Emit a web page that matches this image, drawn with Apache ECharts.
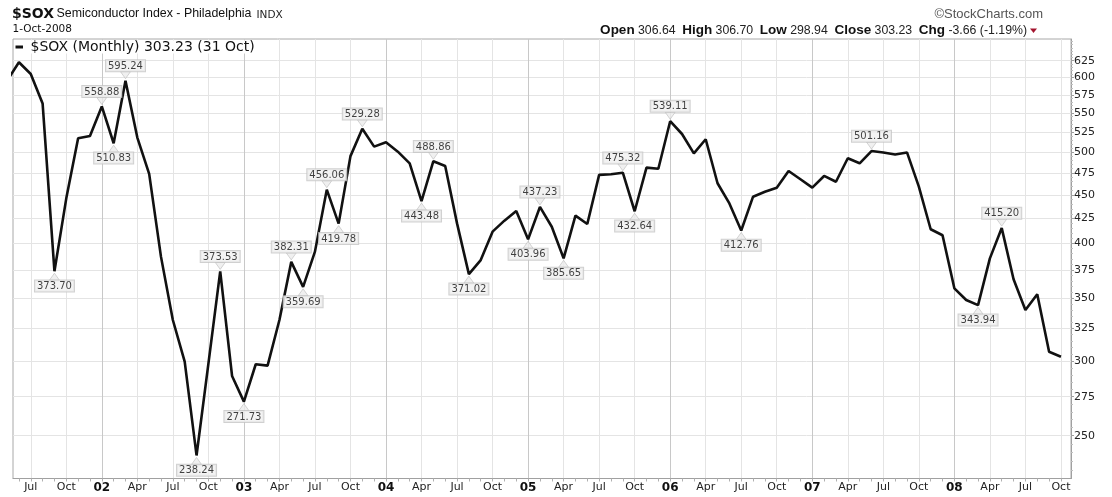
<!DOCTYPE html>
<html><head><meta charset="utf-8">
<script src="https://cdn.jsdelivr.net/npm/echarts@6/dist/echarts.min.js"></script>
<style>html,body{margin:0;padding:0;background:#fff}#c{width:1112px;height:497px}</style>
</head><body><div id="c"></div>
<script>
// ---- data ----
const months = [
 "2001-05","2001-06","2001-07","2001-08","2001-09","2001-10","2001-11","2001-12",
 "2002-01","2002-02","2002-03","2002-04","2002-05","2002-06","2002-07","2002-08","2002-09","2002-10","2002-11","2002-12",
 "2003-01","2003-02","2003-03","2003-04","2003-05","2003-06","2003-07","2003-08","2003-09","2003-10","2003-11","2003-12",
 "2004-01","2004-02","2004-03","2004-04","2004-05","2004-06","2004-07","2004-08","2004-09","2004-10","2004-11","2004-12",
 "2005-01","2005-02","2005-03","2005-04","2005-05","2005-06","2005-07","2005-08","2005-09","2005-10","2005-11","2005-12",
 "2006-01","2006-02","2006-03","2006-04","2006-05","2006-06","2006-07","2006-08","2006-09","2006-10","2006-11","2006-12",
 "2007-01","2007-02","2007-03","2007-04","2007-05","2007-06","2007-07","2007-08","2007-09","2007-10","2007-11","2007-12",
 "2008-01","2008-02","2008-03","2008-04","2008-05","2008-06","2008-07","2008-08","2008-09","2008-10"
];
const closes = [
 595, 622.6, 605, 563, 373.70, 446.5, 517, 520,
 558.88, 510.83, 595.24, 518, 474, 387, 331.7, 299.6, 238.24, 298, 373.53, 289.3,
 271.73, 297.7, 296.7, 331.7, 382.31, 359.69, 392, 456.06, 419.78, 495, 529.28, 506.6,
 512, 500.4, 486.4, 443.48, 488.86, 483.3, 420, 371.02, 384, 411.6, 422.8, 433,
 403.96, 437.23, 416.6, 385.65, 428, 419.4, 472.8, 473.5, 475.32, 432.64, 481.3, 480,
 539.11, 522.5, 498.4, 515.8, 463.3, 441, 412.76, 448.3, 453.8, 458.3, 477.4, 467.8,
 458.3, 471.6, 465, 492.4, 486.4, 501.16, 499.5, 497, 499.5, 459.4, 414, 408,
 358.4, 348.3, 343.94, 385.6, 415.20, 366.4, 339.9, 353.2, 306.89, 303.23
];
const peakMonths = ["2002-01","2002-03","2002-11","2003-05","2003-08","2003-11","2004-05","2005-02","2005-09","2006-01","2007-06","2008-05"];
const troughMonths = ["2001-09","2002-02","2002-09","2003-01","2003-06","2003-09","2004-04","2004-08","2005-01","2005-04","2005-10","2006-07","2008-03"];
const yTicks = [250,275,300,325,350,375,400,425,450,475,500,525,550,575,600,625];
const yMinorTicks = [230,235,240,245,255,260,265,270,280,285,290,295,305,310,315,320,330,335,340,345,355,360,365,370,380,385,390,395,405,410,415,420,430,435,440,445,455,460,465,470,480,485,490,495,505,510,515,520,530,535,540,545,555,560,565,570,580,585,590,595,605,610,615,620,630,635,640,645,650,655];
const quarterMonths = [
 "2001-07","2001-10",
 "2002-01","2002-04","2002-07","2002-10",
 "2003-01","2003-04","2003-07","2003-10",
 "2004-01","2004-04","2004-07","2004-10",
 "2005-01","2005-04","2005-07","2005-10",
 "2006-01","2006-04","2006-07","2006-10",
 "2007-01","2007-04","2007-07","2007-10",
 "2008-01","2008-04","2008-07","2008-10"
];
const quarterLabels = [
 "Jul","Oct",
 "02","Apr","Jul","Oct",
 "03","Apr","Jul","Oct",
 "04","Apr","Jul","Oct",
 "05","Apr","Jul","Oct",
 "06","Apr","Jul","Oct",
 "07","Apr","Jul","Oct",
 "08","Apr","Jul","Oct"
];
const yearLabels = ["02","03","04","05","06","07","08"];

// ---- build ----
const lineData = months.map((m, i) => [i, closes[i]]);
const quarterIdx = quarterMonths.map(m => months.indexOf(m));
const monthIdx = months.map((m, i) => i).filter(i => i > 0);
const labelByIdx = {};
quarterIdx.forEach((q, k) => { labelByIdx[q] = quarterLabels[k]; });
const gridColors = quarterLabels.map(l => yearLabels.indexOf(l) >= 0 ? '#c8c8c8' : '#e4e4e4');

const boxLabel = {
  show: true,
  formatter: p => p.value[1].toFixed(2),
  fontFamily: 'DejaVu Sans', fontSize: 10, color: '#111',
  backgroundColor: '#f0f0f0', borderColor: '#c4c4c4', borderWidth: 1,
  padding: [1, 2, 0, 2], distance: 0
};
const annData = [];
peakMonths.forEach(m => {
  const i = months.indexOf(m);
  annData.push({ value: [i, closes[i]], symbol: 'path://M0,0L10,0L5,6Z', symbolSize: [10, 7], symbolOffset: [0, -5.5],
    label: Object.assign({}, boxLabel, { position: 'top' }) });
});
troughMonths.forEach(m => {
  const i = months.indexOf(m);
  annData.push({ value: [i, closes[i]], symbol: 'triangle', symbolSize: [10, 7], symbolOffset: [0, 5.5],
    label: Object.assign({}, boxLabel, { position: 'bottom' }) });
});

const chart = echarts.init(document.getElementById('c'), null, { renderer: 'canvas' });
const yMin = 225.2, yMax = 659;
const xMin = 0.5, xMax = 89.85;
chart.setOption({
  animation: false,
  grid: { left: 13, right: 41, top: 39, bottom: 18.5, show: true, borderColor: '#a8a8a8', borderWidth: 1, containLabel: false },
  xAxis: [{
    type: 'value', min: xMin, max: xMax, position: 'bottom',
    axisLine: { show: true, onZero: false, lineStyle: { color: '#a0a0a0' } },
    axisTick: { show: false, customValues: quarterIdx },
    axisLabel: {
      customValues: quarterIdx, margin: 3, color: '#222', fontFamily: 'DejaVu Sans', fontSize: 11,
      formatter: v => { const l = labelByIdx[Math.round(v)] || ''; return yearLabels.indexOf(l) >= 0 ? '{y|' + l + '}' : l; },
      rich: { y: { fontFamily: 'DejaVu Sans', fontWeight: 'bold', fontSize: 12, color: '#111' } }
    },
    splitLine: { show: true, lineStyle: { color: gridColors, width: 1 } }
  }, {
    type: 'value', min: xMin, max: xMax, position: 'bottom',
    axisLine: { show: false },
    axisTick: { show: true, customValues: monthIdx, length: 3, lineStyle: { color: '#b0b0b0' } },
    axisLabel: { show: false },
    splitLine: { show: false }
  }],
  yAxis: [{
    type: 'log', logBase: 10, min: yMin, max: yMax, position: 'right',
    axisLine: { show: true, lineStyle: { color: '#a0a0a0' } },
    axisTick: { show: true, customValues: yTicks, length: 3, lineStyle: { color: '#a0a0a0' } },
    axisLabel: { customValues: yTicks, margin: 3, color: '#222', fontFamily: 'DejaVu Sans', fontSize: 11 },
    splitLine: { show: true, lineStyle: { color: '#e4e4e4', width: 1 } }
  }, {
    type: 'log', logBase: 10, min: yMin, max: yMax, position: 'right',
    axisLine: { show: false },
    axisTick: { show: true, customValues: yMinorTicks, length: 2, lineStyle: { color: '#c0c0c0' } },
    axisLabel: { show: false },
    splitLine: { show: false }
  }],
  series: [{
    type: 'line', xAxisIndex: 0, yAxisIndex: 0, data: lineData, showSymbol: false,
    lineStyle: { color: '#111', width: 2.6 }, z: 3
  }, {
    type: 'scatter', xAxisIndex: 0, yAxisIndex: 0, data: annData,
    itemStyle: { color: '#ececec', borderColor: '#bdbdbd', borderWidth: 0.8 }, z: 4
  }],
  graphic: [
    { type: 'text', left: 12, top: 7, style: { text: '$SOX', fontFamily: 'DejaVu Sans', fontWeight: 'bold', fontSize: 14, fill: '#111' } },
    { type: 'text', left: 56.5, top: 8, style: { text: 'Semiconductor Index - Philadelphia', fontFamily: 'Liberation Sans', fontSize: 12.4, fill: '#111' } },
    { type: 'text', left: 256.5, top: 9.5, style: { text: 'INDX', fontFamily: 'DejaVu Sans', fontSize: 10.5, fill: '#222' } },
    { type: 'text', left: 12.5, top: 24, style: { text: '1-Oct-2008', fontFamily: 'DejaVu Sans', fontSize: 10.5, fill: '#111' } },
    { type: 'text', right: 69, top: 8, style: { text: '\u00A9StockCharts.com', fontFamily: 'Liberation Sans', fontSize: 13, fill: '#555' } },
    { type: 'text', right: 85, top: 23.5, style: {
        text: '{b|Open} {v|306.64}  {b|High} {v|306.70}  {b|Low} {v|298.94}  {b|Close} {v|303.23}  {b|Chg} {v|-3.66 (-1.19%)}',
        rich: { b: { fontFamily: 'Liberation Sans', fontWeight: 'bold', fontSize: 13.5, fill: '#111' },
                v: { fontFamily: 'Liberation Sans', fontSize: 12.3, fill: '#222' } } } },
    { type: 'polygon', shape: { points: [[1030, 28.5], [1037, 28.5], [1033.5, 33]] }, style: { fill: '#a3142e' } },
    { type: 'rect', shape: { x: 14, y: 40.5, width: 250, height: 13 }, style: { fill: '#fff' }, z: 10 },
    { type: 'rect', shape: { x: 15.5, y: 45.5, width: 7.5, height: 3 }, style: { fill: '#111' }, z: 11 },
    { type: 'text', left: 30.5, top: 40, z: 11, style: { text: '$SOX (Monthly) 303.23 (31 Oct)', fontFamily: 'DejaVu Sans', fontSize: 14, fill: '#111' } }
  ]
});
</script></body></html>
